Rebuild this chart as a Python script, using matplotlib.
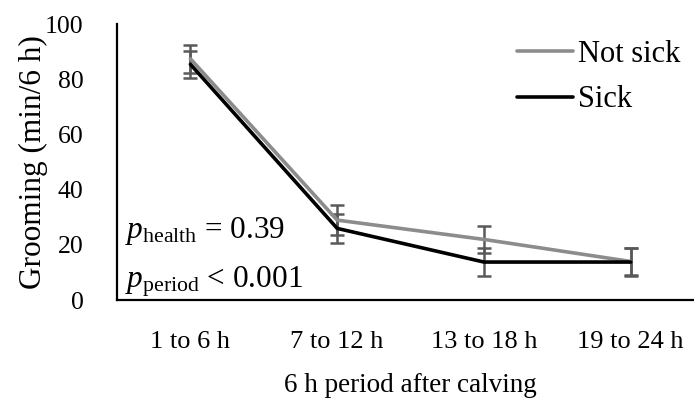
import matplotlib
matplotlib.use('Agg')
import matplotlib.pyplot as plt

# data
periods = ['1 to 6 h', '7 to 12 h', '13 to 18 h', '19 to 24 h']
not_sick = [87.5, 29.0, 22.0, 14.0]
not_sick_err = [5.0, 5.5, 5.0, 5.0]
sick = [85.5, 26.0, 13.8, 13.8]
sick_err = [5.0, 5.3, 5.0, 5.0]

plt.rcParams['font.family'] = 'Liberation Serif'
plt.rcParams['mathtext.fontset'] = 'custom'
plt.rcParams['mathtext.rm'] = 'Liberation Serif'
plt.rcParams['mathtext.it'] = 'Liberation Serif:italic'

fig = plt.figure(figsize=(6.94, 4.05), dpi=100)
ax = fig.add_axes([0.1686, 0.259, 0.846, 0.681])

x = list(range(len(periods)))
err_kw = dict(fmt='none', ecolor='#595959', elinewidth=1.8, capsize=5, capthick=1.8)
ax.errorbar(x, not_sick, yerr=not_sick_err, **err_kw)
ax.errorbar(x, sick, yerr=sick_err, **err_kw)
ax.plot(x, not_sick, color='#8c8c8c', lw=2.6, label='Not sick', solid_capstyle='round')
ax.plot(x, sick, color='black', lw=2.6, label='Sick', solid_capstyle='round')

ax.set_xlim(-0.5, 3.5)
ax.set_ylim(0, 100)
ax.set_yticks(range(0, 101, 20))
ax.set_xticks(x)
ax.set_xticklabels(periods, fontsize=19)
ax.tick_params(axis='y', labelsize=18.5, length=0, pad=24)
ax.tick_params(axis='x', length=0, pad=22)
for s in ['top', 'right']:
    ax.spines[s].set_visible(False)
ax.spines['left'].set_linewidth(1.6)
ax.spines['bottom'].set_linewidth(1.6)

ax.set_xlabel('6 h period after calving', fontsize=19.5, labelpad=15)
ax.set_ylabel('Grooming (min/6 h)', fontsize=22.5, labelpad=-2)

ax.text(0.013, 0.225, r'$p_{\mathrm{health}}$ = 0.39', transform=ax.transAxes,
        fontsize=22.5, va='baseline')
ax.text(0.013, 0.047, r'$p_{\mathrm{period}}$ < 0.001', transform=ax.transAxes,
        fontsize=22.5, va='baseline')

ax.legend(loc='upper right', bbox_to_anchor=(0.985, 1.0), frameon=False, fontsize=22,
          handlelength=1.85, handletextpad=0.15, labelspacing=0.55, borderaxespad=0.1)

fig.savefig('out.png', dpi=100)
